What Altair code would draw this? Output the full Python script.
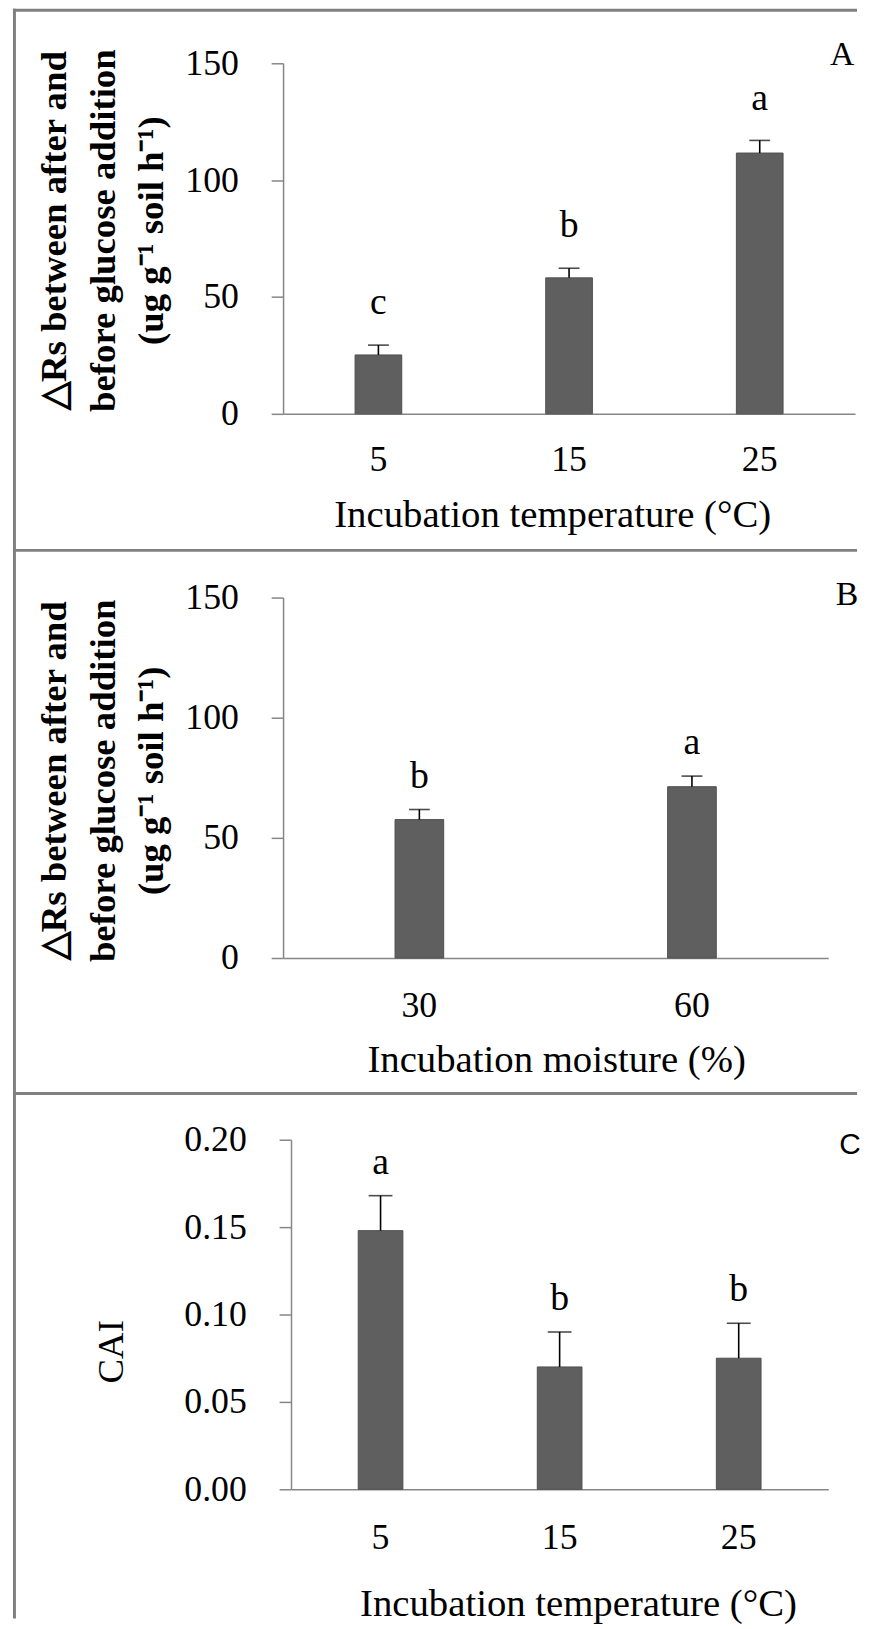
import altair as alt
import pandas as pd

# ---------------- data ----------------
A_cats = ["5", "15", "25"]
A_vals = [25.2, 58.2, 111.6]
A_err = [4.2, 4.1, 5.4]
A_sig = ["c", "b", "a"]

B_cats = ["30", "60"]
B_vals = [57.6, 71.3]
B_err = [4.2, 4.4]
B_sig = ["b", "a"]

C_cats = ["5", "15", "25"]
C_vals = [0.148, 0.070, 0.075]
C_err = [0.020, 0.020, 0.020]
C_sig = ["a", "b", "b"]

AB_ticks = [0, 50, 100, 150]
C_ticks = [0.0, 0.05, 0.10, 0.15, 0.20]

RS_TITLE = ["\u25b3Rs between  after  and", "before glucose addition", "(ug g\u207b\u00b9 soil h\u207b\u00b9)"]
TEMP_TITLE = "Incubation temperature (\u00b0C)"
MOIST_TITLE = "Incubation moisture (%)"

SERIF = "Liberation Serif"
SANS = "Liberation Sans"
GRAY = "#868686"
FRAME = "#808080"
BAR = "#5f5f5f"
BAR_EDGE = "#505050"


def panel(cats, vals, errs, sig, ticks, ydomain, yfmt, ytitle, ytitle_bold, ytitle_size,
          ytitle_x, ytitle_y, xtitle, xtitle_x, xtitle_y, xlabel_pad, width, height,
          xrange, yoffset, bar_size, cap_size, sig_dy, letter, letter_font, letter_size,
          letter_x, letter_y, top_rect, left_rect):
    df = pd.DataFrame({"cat": cats, "val": vals, "err": errs, "sig": sig})
    base = alt.Chart(df).transform_calculate(top="datum.val + datum.err")

    xs = dict(domain=cats, paddingInner=0, paddingOuter=0)
    if xrange is not None:
        xs["range"] = xrange
    xaxis = alt.Axis(
        title=xtitle, ticks=False, domainColor=GRAY, domainWidth=1.5,
        labelFont=SERIF, labelFontSize=36, labelColor="black", labelAngle=0,
        labelPadding=xlabel_pad, labelBaseline="alphabetic",
        titleFont=SERIF, titleFontSize=39, titleFontWeight="normal", titleColor="black",
        titleX=xtitle_x, titleY=xtitle_y, titleAlign="center", titleBaseline="alphabetic",
        titleAngle=0,
    )
    yaxis_kw = dict(
        title=ytitle, values=ticks, format=yfmt, grid=False,
        domainColor=GRAY, domainWidth=1.5, tickColor=GRAY, tickWidth=1.5, tickSize=12,
        labelFont=SERIF, labelFontSize=36, labelColor="black", labelPadding=33,
        labelFlush=False, labelOverlap=False, labelBaseline="middle",
        titleFont=SERIF, titleFontSize=ytitle_size,
        titleFontWeight="bold" if ytitle_bold else "normal", titleColor="black",
        titleAngle=270, titleX=ytitle_x, titleY=ytitle_y, titleAlign="center",
        titleBaseline="alphabetic", titleLineHeight=49,
    )
    if yoffset:
        yaxis_kw["offset"] = yoffset
    yaxis = alt.Axis(**yaxis_kw)
    yscale = alt.Scale(domain=ydomain, nice=False, zero=True)

    x = alt.X("cat:N", sort=cats, scale=alt.Scale(**xs), axis=xaxis)
    y_val = alt.Y("val:Q", scale=yscale, axis=yaxis)
    y_top = alt.Y("top:Q", scale=yscale, axis=yaxis)

    bars = base.mark_bar(size=bar_size, color=BAR, stroke=BAR_EDGE, strokeWidth=1).encode(x=x, y=y_val)
    err = base.mark_rule(color="black", strokeWidth=1.6).encode(x=x, y=y_val, y2="top:Q")
    cap = base.mark_tick(orient="horizontal", size=cap_size, thickness=1.6, color="black").encode(x=x, y=y_top)
    sig_txt = base.mark_text(font=SERIF, fontSize=38, baseline="alphabetic", align="center",
                             dy=sig_dy, color="black").encode(x=x, y=y_top, text="sig:N")

    one = pd.DataFrame({"k": [0]})
    lab = alt.Chart(one).mark_text(font=letter_font, fontSize=letter_size, align="center",
                                   baseline="middle", color="black").encode(
        x=alt.value(letter_x), y=alt.value(letter_y), text=alt.value(letter))

    def rect(r):
        return alt.Chart(one).mark_rect(color=FRAME, stroke=None).encode(
            x=alt.value(r[0]), x2=alt.value(r[1]), y=alt.value(r[2]), y2=alt.value(r[3]))

    return alt.layer(rect(top_rect), rect(left_rect), bars, err, cap, sig_txt, lab).properties(
        width=width, height=height)


# common plot origin at page x = 293; A and B y-axes pushed 8px left (page x 285)
# A: plot at page y 63, x-axis 285..861, height 353
pA = panel(A_cats, A_vals, A_err, A_sig, AB_ticks, [0, 150], "d", RS_TITLE, True, 37,
           -219, 168, TEMP_TITLE, 263, 113, 57, 568, 353, [-8, 568], 8, 47, 21, -31,
           "A", SERIF, 34, 555, -8,
           top_rect=(-280, 570, -55, -52), left_rect=(-280, -277, -55, 489))
# B: plot at page y 597, x-axis 285..834, height 363
pB = panel(B_cats, B_vals, B_err, B_sig, AB_ticks, [0, 150], "d", RS_TITLE, True, 37,
           -219, 184, MOIST_TITLE, 267, 114, 59, 541, 363, [-8, 541], 8, 49, 21, -22,
           "B", SERIF, 34, 560, -2,
           top_rect=(-280, 570, -49, -46), left_rect=(-280, -277, -49, 498))
# C: plot at page y 1139, x-axis 293..834, height 352
pC = panel(C_cats, C_vals, C_err, C_sig, C_ticks, [0, 0.2], ".2f", "CAI", False, 37,
           -170, 213, TEMP_TITLE, 289, 127, 60, 541, 352, None, 0, 45, 24, -22,
           "C", SANS, 30, 563, 5,
           top_rect=(-280, 570, -48, -45), left_rect=(-280, -277, -48, 482))

chart = alt.vconcat(pA, pB, pC, spacing=0).properties(
    padding={"left": 5, "top": -5, "right": 0, "bottom": 0},
    background="white",
).configure_view(stroke=None)

chart.save("out.html", embed_options={"renderer": "svg", "actions": False})
